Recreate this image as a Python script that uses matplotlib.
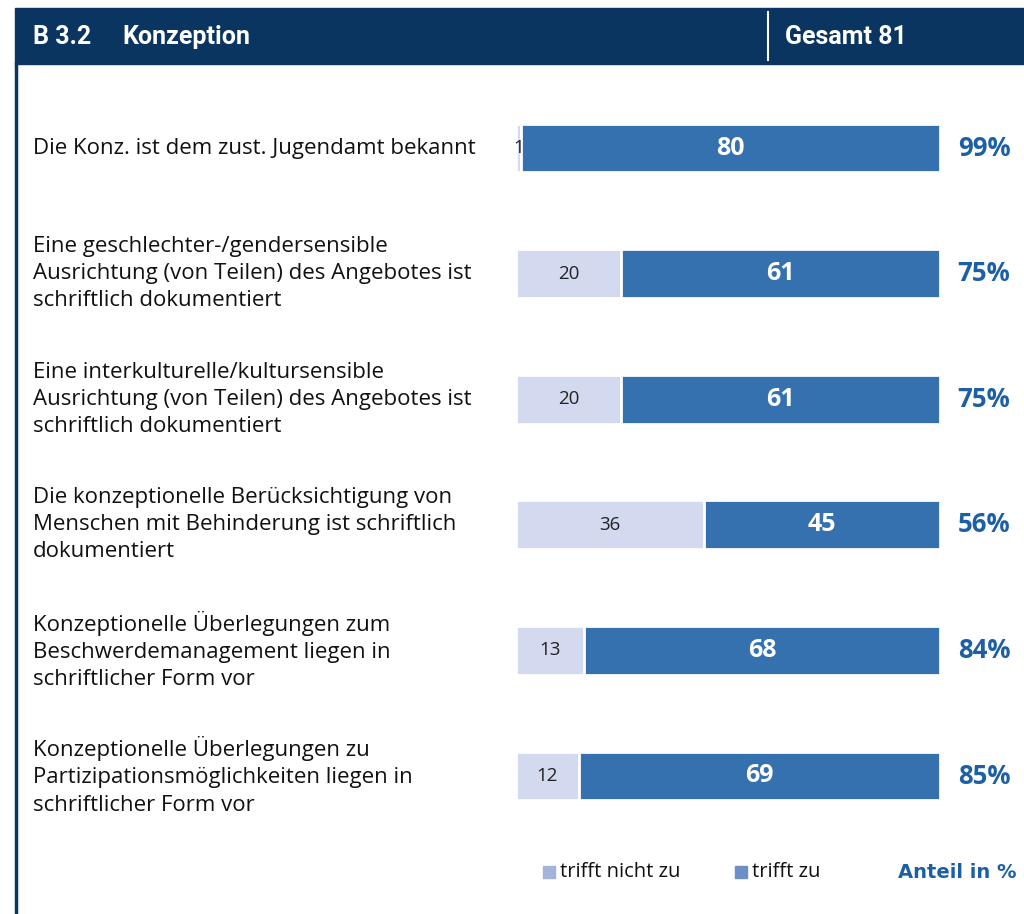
import matplotlib
matplotlib.use("Agg")
import matplotlib.pyplot as plt
from matplotlib.patches import Rectangle
from matplotlib.lines import Line2D
import matplotlib.transforms as mtransforms

plt.rcParams['font.family'] = ['Open Sans', 'DejaVu Sans']

# data
labels = [
    "Die Konz. ist dem zust. Jugendamt bekannt",
    "Eine geschlechter-/gendersensible\nAusrichtung (von Teilen) des Angebotes ist\nschriftlich dokumentiert",
    "Eine interkulturelle/kultursensible\nAusrichtung (von Teilen) des Angebotes ist\nschriftlich dokumentiert",
    "Die konzeptionelle Berücksichtigung von\nMenschen mit Behinderung ist schriftlich\ndokumentiert",
    "Konzeptionelle Überlegungen zum\nBeschwerdemanagement liegen in\nschriftlicher Form vor",
    "Konzeptionelle Überlegungen zu\nPartizipationsmöglichkeiten liegen in\nschriftlicher Form vor",
]
nicht_zu = [1, 20, 20, 36, 13, 12]
zu = [80, 61, 61, 45, 68, 69]
total = 81
title_code = "B 3.2"
title = "Konzeption"
header_right = "Gesamt 81"
legend_labels = ["trifft nicht zu", "trifft zu"]

navy = "#0a3560"
dark = "#3471ae"
light = "#d3d9ee"
pct_col = "#1c5fa4"

W, H = 1024, 914
fig = plt.figure(figsize=(W / 100, H / 100), dpi=100)

def fx(px):
    return px / W

def fy(py):
    return 1 - py / H

# header band
fig.patches.append(Rectangle((fx(15), fy(64)), 1 - fx(15), fy(8) - fy(64),
                             transform=fig.transFigure, color=navy, zorder=0))
fig.lines.append(Line2D([fx(768), fx(768)], [fy(12), fy(60)], transform=fig.transFigure,
                        color="white", lw=1.5))
fig.lines.append(Line2D([fx(16), fx(16)], [fy(64), 0], transform=fig.transFigure,
                        color=navy, lw=2.5))
hdr = dict(color="white", fontsize=18, fontweight="bold", va="center",
           family=["Roboto", "DejaVu Sans"])
fig.text(fx(33), fy(37), title_code, **hdr)
fig.text(fx(122), fy(37), title, **hdr)
fig.text(fx(785), fy(37), header_right, **hdr)

# bar axes
row = 125.6
top = 148 - row / 2
ax = fig.add_axes([fx(516), fy(top + 6 * row), fx(940) - fx(516), 6 * row / H])
ax.set_xlim(0, total)
ax.set_ylim(5.5, -0.5)
ax.axis("off")

ypos = list(range(len(labels)))
ax.barh(ypos, nicht_zu, height=0.39, color=light, edgecolor="white", linewidth=2)
ax.barh(ypos, zu, left=nicht_zu, height=0.39, color=dark, edgecolor="white", linewidth=2)

lab_tr = mtransforms.blended_transform_factory(fig.transFigure, ax.transData)
for i, (a, b) in enumerate(zip(nicht_zu, zu)):
    ax.text(a / 2, i, str(a), ha="center", va="center", fontsize=13.5, color="#222222")
    ax.text(a + b / 2, i, str(b), ha="center", va="center", fontsize=18,
            fontweight="bold", color="white")
    ax.text(fx(984), i, f"{round(b / total * 100)}%", transform=lab_tr, ha="center",
            va="center", fontsize=18.5, fontweight="bold", color=pct_col)
    ax.text(fx(33), i, labels[i], transform=lab_tr, ha="left", va="center",
            fontsize=16, color="#111111", linespacing=1.38)

# legend
ly = fy(872)
fig.patches.append(Rectangle((fx(543), ly - 6 / H), 12 / W, 12 / H,
                             transform=fig.transFigure, color="#a3b3d9"))
fig.text(fx(560), ly, legend_labels[0], fontsize=14.5, va="center", color="#111111")
fig.patches.append(Rectangle((fx(735), ly - 6 / H), 12 / W, 12 / H,
                             transform=fig.transFigure, color="#6e8fc5"))
fig.text(fx(752), ly, legend_labels[1], fontsize=14.5, va="center", color="#111111")
fig.text(fx(1016), ly, "Anteil in %", fontsize=14, fontweight="bold", va="center",
         ha="right", color=pct_col, family=["DejaVu Sans"])

fig.savefig("out.png", dpi=100)
